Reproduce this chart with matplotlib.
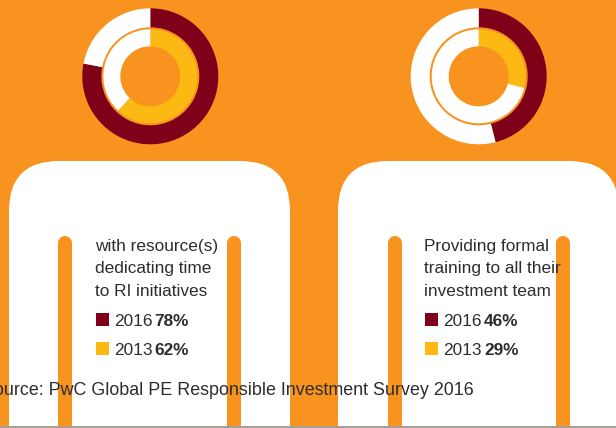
import matplotlib
matplotlib.use('Agg')
from matplotlib import pyplot as plt
from matplotlib.patches import FancyBboxPatch, Rectangle

W, H = 616, 428
ORANGE = '#f8931f'
DARK_RED = '#7e0019'
YELLOW = '#fdb913'
TEXT = '#2d2d2d'
NARROW = ['Liberation Sans Narrow', 'Liberation Sans', 'DejaVu Sans']

captions = [['with resource(s)', 'dedicating time', 'to RI initiatives'],
            ['Providing formal', 'training to all their', 'investment team']]
years = ['2016', '2013']
values_2016 = [78, 46]
values_2013 = [62, 29]
source = 'Source: PwC Global PE Responsible Investment Survey 2016'

donut_x = [150.3, 478.7]
body_x = [9, 338]
bar_x = [[65.3, 233.7], [394.7, 562.7]]
text_x = [95, 424.5]
bold_x = [154, 484]


def py(y):
    return H - y


fig = plt.figure(figsize=(W / 100, H / 100), dpi=100, facecolor=ORANGE)
ax = fig.add_axes([0, 0, 1, 1])

for i in range(2):
    cx, cy = donut_x[i], py(76.3)
    ax.pie([values_2016[i], 100 - values_2016[i]], colors=[DARK_RED, 'white'], center=(cx, cy), radius=68,
           startangle=90, counterclock=False, wedgeprops={'width': 19, 'linewidth': 0})
    ax.pie([values_2013[i], 100 - values_2013[i]], colors=[YELLOW, 'white'], center=(cx, cy), radius=47,
           startangle=90, counterclock=False, wedgeprops={'width': 17, 'linewidth': 0})

    ax.add_patch(FancyBboxPatch((body_x[i] + 50, py(500)), 181, 289, boxstyle='round,pad=50,rounding_size=50',
                                fc='white', ec='none', zorder=2))
    for x in bar_x[i]:
        ax.plot([x, x], [py(243), py(440)], color=ORANGE, lw=10.1, solid_capstyle='round', zorder=3)

    for line, y in zip(captions[i], [251, 273.5, 296]):
        ax.text(text_x[i], py(y), line, family=NARROW, fontsize=12.4, color=TEXT, va='baseline', zorder=5)

    for year, value, color, y in zip(years, [values_2016[i], values_2013[i]], [DARK_RED, YELLOW], [326, 355]):
        ax.add_patch(Rectangle((text_x[i] + 0.5, py(y)), 13, 13, fc=color, ec='none', zorder=4))
        ax.text(text_x[i] + 19, py(y), year, family=NARROW, fontsize=12.4, color=TEXT, va='baseline', zorder=5)
        ax.text(bold_x[i], py(y), f'{value}%', family=NARROW, fontsize=12.4, fontweight='bold', color=TEXT,
                va='baseline', zorder=5)

ax.text(-18, py(394.7), source, family=['Liberation Sans', 'DejaVu Sans'], fontsize=12.9, color=TEXT,
        va='baseline', zorder=6)
ax.add_patch(Rectangle((0, 0), W, 2, fc='#a89f94', ec='none', zorder=7))

ax.set_xlim(0, W)
ax.set_ylim(0, H)
ax.set_aspect('auto')
ax.axis('off')

fig.savefig('out.png', dpi=100, facecolor=ORANGE)
